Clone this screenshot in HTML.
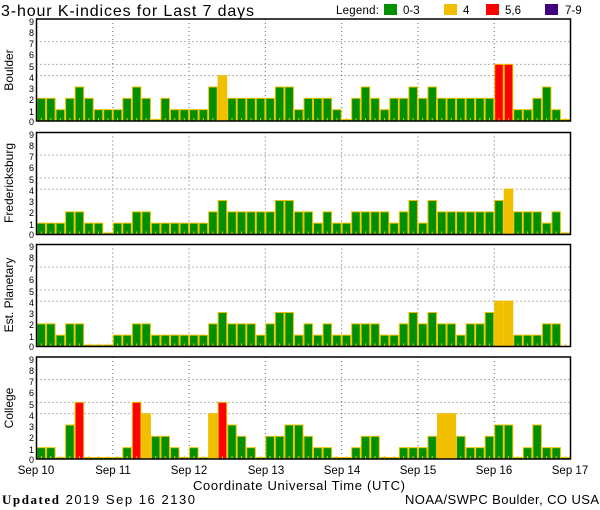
<!DOCTYPE html>
<html><head><meta charset="utf-8"><style>
html,body{margin:0;padding:0;background:#fff;}
svg{display:block;font-family:"Liberation Sans",sans-serif;}
</style></head><body>
<svg id="s" width="600" height="510" viewBox="0 0 600 510" xmlns="http://www.w3.org/2000/svg">
<rect width="600" height="510" fill="#fff"/>
<text x="1" y="16" font-size="16" fill="#000" textLength="253" lengthAdjust="spacing">3-hour K-indices for Last 7 days</text>
<text x="336" y="14" font-size="11.5" textLength="43">Legend:</text>
<rect x="384" y="4" width="13" height="11" fill="#009000"/><text x="403" y="14" font-size="11.5">0-3</text>
<rect x="444" y="4" width="13" height="11" fill="#f0c000"/><text x="463" y="14" font-size="11.5">4</text>
<rect x="486" y="4" width="13" height="11" fill="#ff0000"/><text x="505" y="14" font-size="11.5">5,6</text>
<rect x="545" y="4" width="13" height="11" fill="#400080"/><text x="565" y="14" font-size="11.5">7-9</text>
<g font-size="12" text-anchor="middle">
<text transform="translate(13,70) rotate(-90)">Boulder</text>
<text transform="translate(13,183) rotate(-90)">Fredericksburg</text>
<text transform="translate(13,295) rotate(-90)">Est. Planetary</text>
<text transform="translate(13,408) rotate(-90)">College</text>
</g>
<g font-size="11.5" text-anchor="middle">
<text x="36" y="474">Sep 10</text><text x="113" y="474">Sep 11</text><text x="189" y="474">Sep 12</text><text x="266" y="474">Sep 13</text><text x="342" y="474">Sep 14</text><text x="418" y="474">Sep 15</text><text x="494" y="474">Sep 16</text><text x="570" y="474">Sep 17</text>
</g>
<text x="193" y="490" font-size="13" textLength="212" lengthAdjust="spacing">Coordinate Universal Time (UTC)</text>
<text x="2" y="504" font-size="13" textLength="193" lengthAdjust="spacing"><tspan font-weight="bold" font-family="Liberation Serif,serif">Updated</tspan> 2019 Sep 16 2130</text>
<text x="405" y="504" font-size="13" textLength="194" lengthAdjust="spacing">NOAA/SWPC Boulder, CO USA</text>
<g id="ylab" font-size="9" text-anchor="end">
<text x="34" y="25">9</text><text x="34" y="36">8</text><text x="34" y="47">7</text><text x="34" y="58">6</text><text x="34" y="70">5</text><text x="34" y="81">4</text><text x="34" y="92">3</text><text x="34" y="103">2</text><text x="34" y="115">1</text><text x="34" y="125">0</text>
<text x="34" y="138">9</text><text x="34" y="149">8</text><text x="34" y="160">7</text><text x="34" y="171">6</text><text x="34" y="183">5</text><text x="34" y="194">4</text><text x="34" y="205">3</text><text x="34" y="216">2</text><text x="34" y="228">1</text><text x="34" y="238">0</text>
<text x="34" y="250">9</text><text x="34" y="261">8</text><text x="34" y="272">7</text><text x="34" y="283">6</text><text x="34" y="295">5</text><text x="34" y="306">4</text><text x="34" y="317">3</text><text x="34" y="328">2</text><text x="34" y="340">1</text><text x="34" y="350">0</text>
<text x="34" y="363">9</text><text x="34" y="374">8</text><text x="34" y="385">7</text><text x="34" y="396">6</text><text x="34" y="408">5</text><text x="34" y="419">4</text><text x="34" y="430">3</text><text x="34" y="441">2</text><text x="34" y="453">1</text><text x="34" y="463">0</text>
</g>
<g id="g"></g>
</svg>
<script>
var D=[
"22123211123202111134222223312221023212232322222255112310",
"11122110112211111123222223322121122221231322222234222120",
"2212200011221111112322212331212112221123232212234411122x",
"11035000015422101045321022332110012200111244211233013110"
];
var tops=[19,132.5,244.5,357],H=102,L=36.5,R=570.5,u=H/9,bw=(R-L)/56;
var ns="http://www.w3.org/2000/svg",g=document.getElementById('g');
function el(n,a){var e=document.createElementNS(ns,n);for(var k in a)e.setAttribute(k,a[k]);g.appendChild(e);return e;}
for(var p=0;p<4;p++){
 var t=tops[p],b=t+H;
 [7,5,4].forEach(function(k){el('line',{x1:L,x2:R,y1:b-k*u,y2:b-k*u,stroke:'#666','stroke-dasharray':'1,3'});});
 for(var d=1;d<7;d++){var x=L+d*76.29;el('line',{x1:x,x2:x,y1:t,y2:b,stroke:'#666','stroke-dasharray':'1,3'});}
 for(var i=0;i<56;i++){
  var c=D[p][i];var x=L+i*bw;
  if(c==='x'){el('rect',{x:x+bw/2-0.5,y:b-3,width:1,height:3,fill:'#f0c000'});continue;}
  var v=+c;var h=v?v*u:1.5;
  var col=v<=3?'#009000':v==4?'#f0c000':v<=6?'#ff0000':'#400080';
  el('rect',{x:x+0.5,y:b-h,width:bw-1,height:h,fill:col,stroke:'#f0c000','stroke-width':1});
  el('rect',{x:x+bw/2-0.5,y:b-3,width:1,height:3,fill:'#f0c000'});
 }
 el('rect',{x:L,y:t,width:R-L,height:H,fill:'none',stroke:'#000','stroke-width':1.5});
}
</script>
</body></html>
